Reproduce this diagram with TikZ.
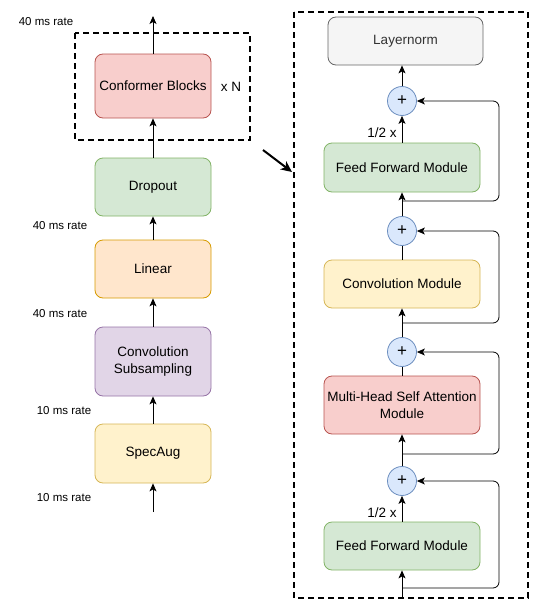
\documentclass[tikz,border=0pt]{standalone}
\usepackage{fontspec}
\setmainfont{Liberation Sans}
\usetikzlibrary{arrows.meta}

\definecolor{redfill}{HTML}{F8CECC}
\definecolor{redline}{HTML}{B85450}
\definecolor{greenfill}{HTML}{D5E8D4}
\definecolor{greenline}{HTML}{82B366}
\definecolor{orangefill}{HTML}{FFE6CC}
\definecolor{orangeline}{HTML}{D79B00}
\definecolor{purplefill}{HTML}{E1D5E7}
\definecolor{purpleline}{HTML}{9673A6}
\definecolor{yellowfill}{HTML}{FFF2CC}
\definecolor{yellowline}{HTML}{D6B656}
\definecolor{greyfill}{HTML}{F5F5F5}
\definecolor{greyline}{HTML}{666666}
\definecolor{bluefill}{HTML}{DAE8FC}
\definecolor{blueline}{HTML}{6C8EBF}

\newcommand{\boxfont}{\fontsize{13.5}{16.5}\selectfont}
\newcommand{\ratefont}{\fontsize{11.5}{13}\selectfont}
\newcommand{\plusfont}{\fontsize{17}{17}\selectfont}

\begin{document}
\begin{tikzpicture}[x=1pt, y=-1pt,
    block/.style={draw, rounded corners=8pt, line width=0.8pt, align=center,
        inner sep=0pt, font=\boxfont},
    plus/.style={circle, draw=blueline, fill=bluefill, line width=0.8pt,
        minimum size=29pt, inner sep=0pt, font=\plusfont},
    flow/.style={line width=0.8pt, -{Stealth[length=8pt, width=7pt, inset=2pt]}},
    skip/.style={flow, rounded corners=6pt},
    rate/.style={font=\ratefont}]
    \useasboundingbox (0,0) rectangle (539,608);

    % Left Column Blocks
    \node[block, fill=redfill, draw=redline, minimum width=116pt, minimum height=64pt] (conf) at (153,86) {Conformer Blocks};
    \node[block, fill=greenfill, draw=greenline, minimum width=116pt, minimum height=58pt] (drop) at (153,187) {Dropout};
    \node[block, fill=orangefill, draw=orangeline, minimum width=116pt, minimum height=58pt] (lin) at (153,269) {Linear};
    \node[block, fill=purplefill, draw=purpleline, minimum width=116pt, minimum height=69pt] (sub) at (153,361.5) {Convolution\\Subsampling};
    \node[block, fill=yellowfill, draw=yellowline, minimum width=116pt, minimum height=59pt] (spec) at (153,453.5) {SpecAug};

    % Left Column Arrows
    \coordinate (inL) at (153,512);
    \coordinate (outL) at (153,16);
    \draw[flow] (inL) -- (spec.south);
    \draw[flow] (spec.north) -- (sub.south);
    \draw[flow] (sub.north) -- (lin.south);
    \draw[flow] (lin.north) -- (drop.south);
    \draw[flow] (drop.north) -- (conf.south);
    \draw[flow] (conf.north) -- (outL);

    % -- rate labels
    \node[rate] (r1) at (46,22) {40 ms rate};
    \node[rate] (r2) at (60,226) {40 ms rate};
    \node[rate] (r3) at (60,314) {40 ms rate};
    \node[rate] (r4) at (64,411) {10 ms rate};
    \node[rate] (r5) at (64,498) {10 ms rate};

    % Repeat Box
    \draw[line width=1.5pt, dash pattern=on 6pt off 4pt] (75,33) rectangle (250,140);
    \node[font=\boxfont] (times) at (231,87) {x N};

    % Zoom Arrow
    \coordinate (z1) at (263,150);
    \coordinate (z2) at (292,172);
    \draw[line width=2pt, -{Stealth[length=11pt, width=10pt, inset=3pt]}] (z1) -- (z2);

    % Right Column Blocks
    \node[block, fill=greyfill, draw=greyline, text=black!80, minimum width=155pt, minimum height=48pt] (ln) at (405.5,41) {Layernorm};
    \node[plus] (p1) at (402,101) {+};
    \node[block, fill=greenfill, draw=greenline, minimum width=156pt, minimum height=49pt] (ff1) at (402,167.5) {Feed Forward Module};
    \node[plus] (p2) at (402,231) {+};
    \node[block, fill=yellowfill, draw=yellowline, minimum width=156pt, minimum height=48pt] (conv) at (402,284) {Convolution Module};
    \node[plus] (p3) at (402,352) {+};
    \node[block, fill=redfill, draw=redline, minimum width=156pt, minimum height=58pt] (mhsa) at (402,405) {Multi-Head Self Attention\\Module};
    \node[plus] (p4) at (402,481) {+};
    \node[block, fill=greenfill, draw=greenline, minimum width=156pt, minimum height=48pt] (ff2) at (402,546) {Feed Forward Module};

    % -- half step labels
    \node[font=\boxfont] (h1) at (382,133) {1/2 x};
    \node[font=\boxfont] (h2) at (382,513) {1/2 x};

    % Right Column Arrows
    \coordinate (inR) at (402,598);
    \draw[flow] (inR) -- (ff2.south);
    \draw[flow] (ff2.north) -- (p4.south);
    \draw[flow] (p4.north) -- (mhsa.south);
    \draw[line width=0.8pt] (mhsa.north) -- (p3.south);
    \draw[flow] (p3.north) -- (conv.south);
    \draw[line width=0.8pt] (conv.north) -- (p2.south);
    \draw[flow] (p2.north) -- (ff1.south);
    \draw[flow] (ff1.north) -- (p1.south);
    \draw[flow] (p1.north) -- (p1.north |- ln.south);

    % Residual Connections
    \coordinate (b1) at (402,201);
    \coordinate (b2) at (402,323);
    \coordinate (b3) at (402,454);
    \coordinate (b4) at (402,588);
    \draw[skip] (b1) -- (499,201) |- (p1.east);
    \draw[skip] (b2) -- (499,323) |- (p2.east);
    \draw[skip] (b3) -- (499,454) |- (p3.east);
    \draw[skip] (b4) -- (499,588) |- (p4.east);

    % Module Box
    \draw[line width=1.5pt, dash pattern=on 6pt off 4pt] (294,12) rectangle (528,598);
\end{tikzpicture}
\end{document}
